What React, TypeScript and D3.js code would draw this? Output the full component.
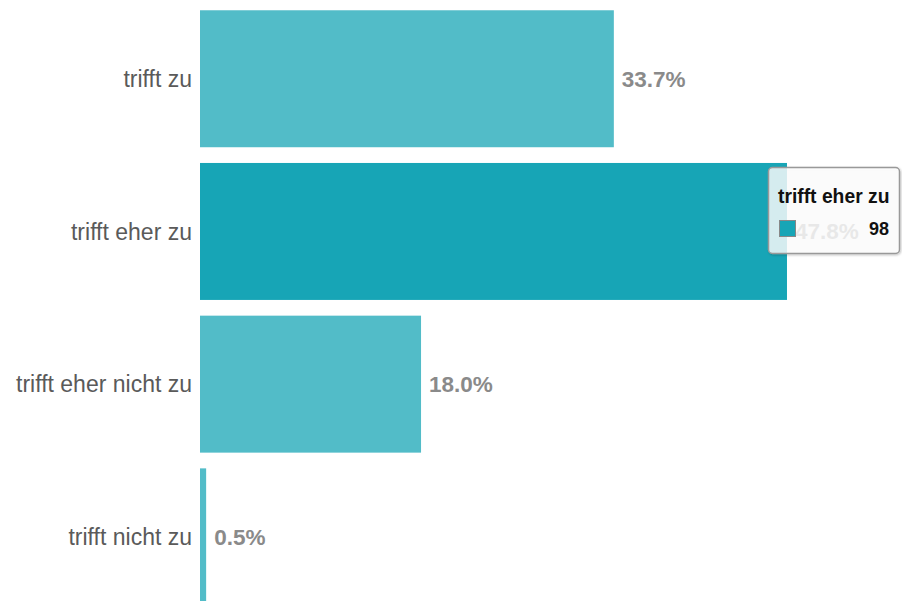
import React from "react";
import * as d3 from "d3";

const categories = ["trifft zu", "trifft eher zu", "trifft eher nicht zu", "trifft nicht zu"];
const percentages = [33.7, 47.8, 18.0, 0.5];
const counts = [69, 98, 37, 1];
const highlightIndex = 1;

const W = 902;
const H = 601;

export default function App() {
  const x = d3.scaleLinear().domain([0, 60]).range([200, 200 + 60 * 12.28]);
  const y = d3
    .scaleBand<string>()
    .domain(categories)
    .range([2.4, 613.2])
    .paddingInner(0.103)
    .paddingOuter(0.0515);

  const font = "Arial, 'Liberation Sans', sans-serif";
  const hi = categories[highlightIndex];
  const tipX = 768;
  const tipY = 167;

  return (
    <div style={{ position: "absolute", left: 0, top: 0, width: W, height: H, overflow: "hidden", background: "#fff" }}>
      <svg width={W} height={H} style={{ display: "block" }}>
        <defs>
          <filter id="sh" x="-10%" y="-10%" width="130%" height="130%">
            <feDropShadow dx="1" dy="1" stdDeviation="1" floodColor="#000" floodOpacity="0.25" />
          </filter>
        </defs>
        {categories.map((c, i) => {
          const y0 = y(c)!;
          const bw = y.bandwidth();
          const cy = y0 + bw / 2;
          return (
            <g key={c}>
              <rect
                x={x(0)}
                y={y0}
                width={x(percentages[i]) - x(0)}
                height={bw}
                fill={i === highlightIndex ? "#17a5b6" : "#52bcc8"}
              />
              <text
                x={192}
                y={cy}
                dy="0.35em"
                textAnchor="end"
                fontFamily={font}
                fontSize={23}
                fill="#5a5a5a"
              >
                {c}
              </text>
              <text
                x={x(percentages[i]) + 8}
                y={cy}
                dy="0.35em"
                fontFamily={font}
                fontSize={22.5}
                fontWeight="bold"
                fill="#8a8a8a"
              >
                {percentages[i].toFixed(1) + "%"}
              </text>
            </g>
          );
        })}
        <g transform={`translate(${tipX},${tipY})`}>
          <rect
            x={0.5}
            y={0.5}
            width={131}
            height={86}
            rx={4}
            fill="#ffffff"
            fillOpacity={0.8}
            stroke="#999"
            strokeWidth={1.5}
            filter="url(#sh)"
          />
          <text x={10} y={36} fontFamily={font} fontSize={19.3} fontWeight="bold" fill="#111">
            {hi}
          </text>
          <rect x={11.5} y={53.5} width={16} height={16} fill="#17a5b6" stroke="#888" strokeWidth={1} />
          <text x={121} y={68} textAnchor="end" fontFamily={font} fontSize={18} fontWeight="bold" fill="#111">
            {counts[highlightIndex]}
          </text>
        </g>
      </svg>
    </div>
  );
}
